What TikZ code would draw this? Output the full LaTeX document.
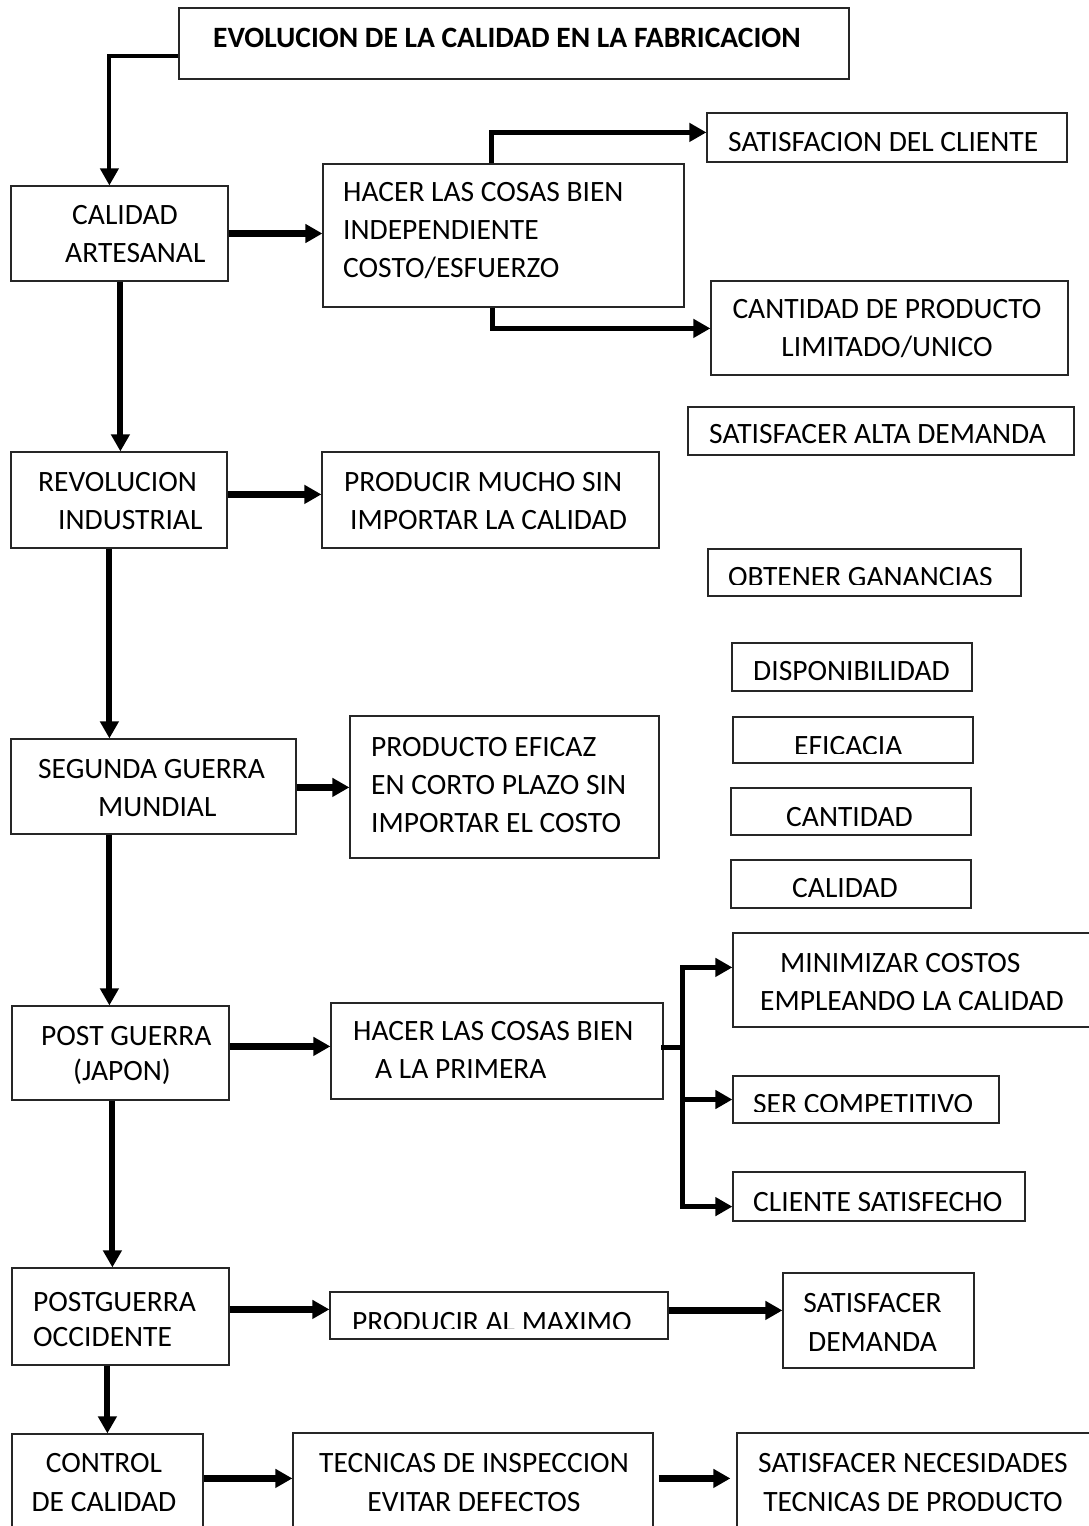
\documentclass[tikz,border=0pt]{standalone}
\usepackage{fontspec}
\setmainfont{Carlito}
\usetikzlibrary{arrows.meta,fit}

\begin{document}
\begin{tikzpicture}[x=1pt,y=-1pt,
  >={Triangle[length=17pt,width=18pt]},
  box/.style={draw=black!85, line width=1.2pt, rectangle, inner sep=0pt},
  txt/.style={font=\fontsize{29.5}{38}\selectfont, inner sep=0pt, text=black},
  tight/.style={font=\fontsize{29.5}{35}\selectfont},
  loose/.style={font=\fontsize{29.5}{39}\selectfont},
  flow/.style={->, line width=6pt},
  wide/.style={->, line width=7pt},
  branch/.style={->, line width=5pt},
  stem/.style={line width=5pt, line cap=rect},
  lead/.style={->, line width=4pt}]

\useasboundingbox (0,0) rectangle (1089,1526);
\clip (0,0) rectangle (1089,1526);
\fill[white] (0,0) rectangle (1089,1526);

% ---- boxes -------------------------------------------------------------
\node[box, fit={(179,8) (849,79)}]      (title) {};
\node[box, fit={(11,186) (228,281)}]    (cal)   {};
\node[box, fit={(323,164) (684,307)}]   (h1)    {};
\node[box, fit={(707,113) (1067,162)}]  (sat)   {};
\node[box, fit={(711,281) (1068,375)}]  (cant)  {};
\node[box, fit={(688,407) (1074,455)}]  (alta)  {};
\node[box, fit={(11,452) (227,548)}]    (rev)   {};
\node[box, fit={(322,452) (659,548)}]   (pm)    {};
\node[box, fit={(708,549) (1021,596)}]  (obt)   {};
\node[box, fit={(732,643) (972,691)}]   (disp)  {};
\node[box, fit={(733,717) (973,763)}]   (efi)   {};
\node[box, fit={(731,788) (971,835)}]   (cantd) {};
\node[box, fit={(731,860) (971,908)}]   (calq)  {};
\node[box, fit={(11,739) (296,834)}]    (seg)   {};
\node[box, fit={(350,716) (659,858)}]   (pe)    {};
\node[box, fit={(12,1006) (229,1100)}]  (pj)    {};
\node[box, fit={(331,1003) (663,1099)}] (h2)    {};
\node[box, fit={(733,933) (1100,1027)}] (mini)  {};
\node[box, fit={(733,1076) (999,1123)}] (ser)   {};
\node[box, fit={(733,1172) (1025,1221)}](cli)   {};
\node[box, fit={(12,1268) (229,1365)}]  (pg)    {};
\node[box, fit={(330,1292) (668,1339)}] (pmax)  {};
\node[box, fit={(783,1273) (974,1368)}] (sd)    {};
\node[box, fit={(12,1434) (203,1560)}]  (ctl)   {};
\node[box, fit={(293,1433) (653,1560)}] (tec)   {};
\node[box, fit={(737,1433) (1100,1560)}](sn)    {};

% ---- texts -------------------------------------------------------------
\node[txt, anchor=west, font=\fontsize{29.5}{38}\selectfont\bfseries] (ttitle) at (213,37.5)
  {EVOLUCION DE LA CALIDAD EN LA FABRICACION};
\node[txt, anchor=west, align=left] (tcal) at (65,234.5)
  {\hspace*{7pt}CALIDAD\\ARTESANAL};
\node[txt, anchor=west, align=left] (th1) at (343,231)
  {HACER LAS COSAS BIEN\\INDEPENDIENTE\\COSTO/ESFUERZO};
\node[txt, anchor=west] (tsat) at (728,142.5) {SATISFACION DEL CLIENTE};
\node[txt, align=center] (tcant) at (887,329) {CANTIDAD DE PRODUCTO\\LIMITADO/UNICO};
\node[txt, anchor=west] (talta) at (709,434) {SATISFACER ALTA DEMANDA};
\node[txt, anchor=west, align=left] (trev) at (38,501.5)
  {REVOLUCION\\\hspace*{20pt}INDUSTRIAL};
\node[txt, anchor=west, align=left] (tpm) at (344,501.5)
  {PRODUCIR MUCHO SIN\\\hspace*{6pt}IMPORTAR LA CALIDAD};
\node[txt, anchor=west] (tdisp) at (753,671) {DISPONIBILIDAD};
\node[txt, anchor=west] (tcantd) at (786,817) {CANTIDAD};
\node[txt, anchor=west] (tcalq) at (792,888) {CALIDAD};
\node[txt, anchor=west, align=left] (tseg) at (38,788.5)
  {SEGUNDA GUERRA\\\hspace*{60pt}MUNDIAL};
\node[txt, anchor=west, align=left] (tpe) at (371,785)
  {PRODUCTO EFICAZ\\EN CORTO PLAZO SIN\\IMPORTAR EL COSTO};
\node[txt, tight, anchor=west, align=left] (tpj) at (41,1055.5)
  {POST GUERRA\\\hspace*{32pt}(JAPON)};
\node[txt, anchor=west, align=left] (th2) at (353,1050)
  {HACER LAS COSAS BIEN\\\hspace*{22pt}A LA PRIMERA};
\node[txt, anchor=west, align=left] (tmini) at (760,982)
  {\hspace*{20pt}MINIMIZAR COSTOS\\EMPLEANDO LA CALIDAD};
\node[txt, anchor=west] (tcli) at (753,1202) {CLIENTE SATISFECHO};
\node[txt, tight, anchor=west, align=left] (tpg) at (33,1319.5)
  {POSTGUERRA\\OCCIDENTE};
\node[txt, loose, align=center] (tsd) at (872.5,1322.5) {SATISFACER\\DEMANDA};
\node[txt, loose, align=center] (tctl) at (104,1482.5) {CONTROL\\DE CALIDAD};
\node[txt, loose, align=center] (ttec) at (474,1482.5)
  {TECNICAS DE INSPECCION\\EVITAR DEFECTOS};
\node[txt, loose, align=center] (tsn) at (913,1482.5)
  {SATISFACER NECESIDADES\\TECNICAS DE PRODUCTO};

% texts whose lower edge is cut off by their frame
\begin{scope}
  \clip (obt.north west) rectangle ([yshift=12.5pt]obt.south east);
  \node[txt, anchor=west] (tobt) at (728,577.5) {OBTENER GANANCIAS};
\end{scope}
\begin{scope}
  \clip (efi.north west) rectangle ([yshift=9.7pt]efi.south east);
  \node[txt, anchor=west] (tefi) at (794,746.5) {EFICACIA};
\end{scope}
\begin{scope}
  \clip (ser.north west) rectangle ([yshift=12pt]ser.south east);
  \node[txt, anchor=west] (tser) at (753,1104.5) {SER COMPETITIVO};
\end{scope}
\begin{scope}
  \clip (pmax.north west) rectangle ([yshift=11pt]pmax.south east);
  \node[txt, anchor=west] (tpmax) at (352,1322.5) {PRODUCIR AL MAXIMO};
\end{scope}

% ---- connectors --------------------------------------------------------
\draw[lead] ([yshift=-49pt]title.north west) -| ([xshift=99pt]cal.north west);
\draw[wide] (cal.east) -- (cal.east -| h1.west);
\draw[branch] ([xshift=169pt]h1.north west) |- ([yshift=-20pt]sat.north west);
\draw[branch] ([xshift=170pt]h1.south west) |- ([yshift=-48pt]cant.north west);
\draw[flow] ([xshift=110pt]cal.south west) -- ([xshift=110pt]rev.north west);
\draw[wide] ([yshift=-43pt]rev.north east) -- ([yshift=-43pt]pm.north west);
\draw[flow] ([xshift=99pt]rev.south west) -- ([xshift=99pt]seg.north west);
\coordinate (s1) at ([yshift=-49pt]seg.north east);
\draw[wide] (s1) -- (s1 -| pe.west);
\draw[flow] ([xshift=99pt]seg.south west) -- ([xshift=98pt]pj.north west);
\coordinate (j1) at ([yshift=-41pt]pj.north east);
\draw[wide] (j1) -- (j1 -| h2.west);

% fork towards the three results of the second box
\coordinate (fork) at ([xshift=19pt,yshift=-45pt]h2.north east);
\coordinate (m1) at ([yshift=-35pt]mini.north west);
\coordinate (c1) at ([yshift=15pt]cli.south west);
\draw[stem] (fork -| h2.east) -- (fork);
\draw[stem] (fork |- m1) -- (fork |- c1);
\draw[branch] (fork |- m1) -- (m1);
\draw[branch] (fork |- ser.west) -- (ser.west);
\draw[branch] (fork |- c1) -- (c1);

\draw[flow] ([xshift=101pt]pj.south west) -- ([xshift=101pt]pg.north west);
\coordinate (g1) at ([yshift=-42pt]pg.north east);
\draw[wide] (g1) -- (g1 -| pmax.west);
\coordinate (x1) at ([yshift=-19pt]pmax.north east);
\draw[wide] (x1) -- (x1 -| sd.west);
\draw[flow] ([xshift=96pt]pg.south west) -- ([xshift=96pt]ctl.north west);
\coordinate (k1) at ([yshift=-45pt]ctl.north east);
\draw[wide] (k1) -- (k1 -| tec.west);
\coordinate (e1) at ([xshift=5pt,yshift=-46pt]tec.north east);
\draw[wide, shorten >=6pt] (e1) -- (e1 -| sn.west);
\end{tikzpicture}
\end{document}
